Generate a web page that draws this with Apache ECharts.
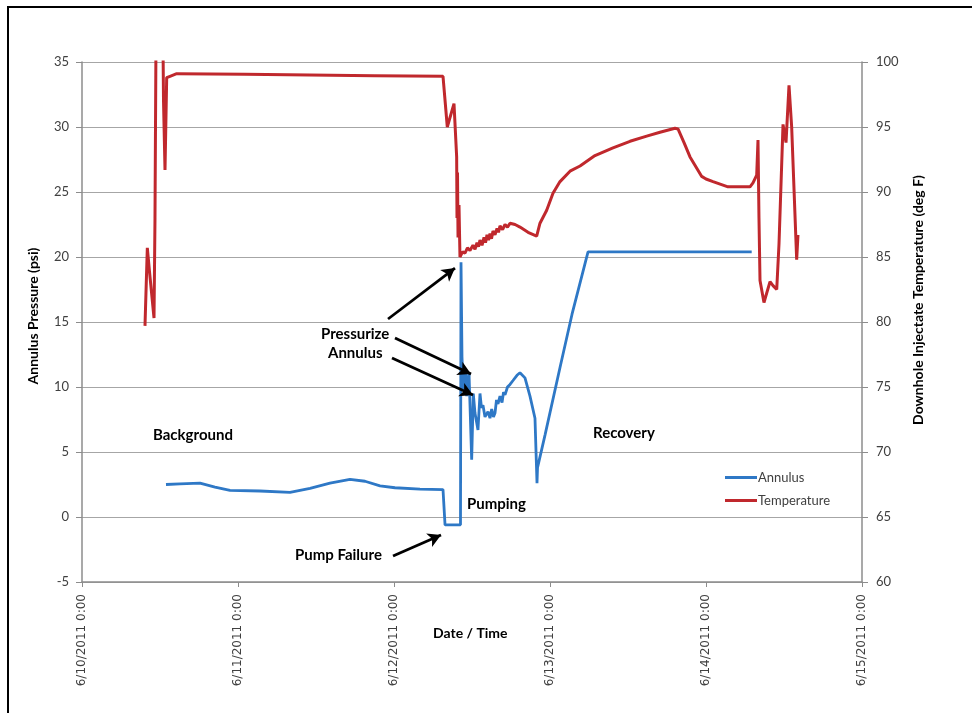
<!DOCTYPE html>
<html>
<head>
<meta charset="utf-8">
<script src="https://cdn.jsdelivr.net/npm/echarts@6/dist/echarts.min.js"></script>
<style>
  html, body { margin: 0; padding: 0; background: #fff; }
  #chart { width: 972px; height: 713px; }
</style>
</head>
<body>
<div id="chart"></div>
<script>
// Hours elapsed since 6/10/2011 0:00
const annulusHours = [12.92, 15.08, 18.15, 20.46, 22.77, 27.38, 32.0, 35.08, 38.15, 41.23, 43.54, 45.85, 48.15, 52.0, 55.54,
  55.85, 58.23, 58.31, 58.46, 58.66, 59.03, 59.18, 59.54, 59.95, 60.2, 60.46, 60.92, 61.23, 61.46, 61.69, 62.0, 62.46,
  62.77, 63.03, 63.3, 63.54, 63.77, 64.0, 64.31, 64.62, 64.85, 65.08, 65.46, 65.85, 66.31, 66.92, 67.38, 68.15, 68.92,
  69.69, 70.0, 70.08, 71.23, 73.54, 75.39, 77.85, 103.03];
const annulusPsi = [2.5, 2.55, 2.6, 2.3, 2.05, 2.0, 1.9, 2.2, 2.6, 2.9, 2.75, 2.4, 2.25, 2.15, 2.1,
  -0.6, -0.6, 19.6, 12.3, 9.8, 11.1, 9.3, 11.1, 4.4, 9.5, 8.0, 6.7, 9.5, 8.4, 8.6, 7.7, 8.1,
  7.6, 8.3, 7.7, 8.0, 9.0, 8.7, 9.3, 8.8, 9.6, 9.4, 10.0, 10.2, 10.5, 10.9, 11.1, 10.7, 9.3,
  7.6, 2.6, 3.8, 6.3, 11.5, 15.6, 20.4, 20.4];

const tempHours = [9.69, 10.05, 10.4, 11.08, 11.23, 11.38, 12.46, 12.54, 12.77, 13.03, 13.54, 14.57, 25.0, 35.0, 45.0, 55.54,
  55.69, 56.2, 57.23, 57.64, 57.69, 57.77, 57.85, 58.0, 58.15,
  58.54, 58.92, 59.3, 59.69, 60.15, 60.46, 60.77, 61.0, 61.23, 61.54, 61.85, 62.08, 62.31, 62.54, 62.77, 63.0, 63.23,
  63.54, 63.85, 64.08, 64.31, 64.7, 65.08, 65.46, 65.85, 66.62, 67.38, 68.62, 69.95,
  70.46, 71.49, 72.46, 73.54, 75.08, 76.62, 78.92, 81.69, 84.31, 86.88, 88.92, 91.23, 91.69, 92.62, 93.54, 95.34, 96.0,
  97.08, 99.38, 102.77, 103.23, 103.8, 104.0, 104.15, 104.31, 104.92, 105.85, 106.31, 106.88, 107.23, 107.85, 108.31,
  108.77, 109.18, 109.95, 110.15];
const tempDegF = [79.7, 85.7, 83.8, 80.3, 88.0, 101.5, 101.5, 97.0, 91.7, 98.8, 98.9, 99.1, 99.05, 99.0, 98.95, 98.9,
  99.0, 95.0, 96.8, 92.7, 88.0, 91.5, 86.5, 89.0, 85.0,
  85.4, 85.3, 85.7, 85.5, 85.9, 85.6, 86.1, 85.8, 86.3, 85.9, 86.5, 86.1, 86.7, 86.3, 86.8, 86.4, 87.0,
  86.7, 87.2, 86.9, 87.4, 87.1, 87.5, 87.3, 87.6, 87.5, 87.3, 86.9, 86.6,
  87.6, 88.6, 89.9, 90.8, 91.6, 92.0, 92.8, 93.4, 93.9, 94.3, 94.6, 94.9, 94.85, 93.8, 92.7, 91.2, 91.0,
  90.8, 90.4, 90.4, 90.7, 91.3, 94.0, 88.0, 83.2, 81.5, 83.1, 82.8, 82.5, 86.0, 95.2, 93.8,
  98.2, 95.0, 84.8, 86.7];

const xTickLabels = ['6/10/2011 0:00', '6/11/2011 0:00', '6/12/2011 0:00', '6/13/2011 0:00', '6/14/2011 0:00', '6/15/2011 0:00'];

// Annotation arrows: [startHours, startPsi, endHours, endPsi]
const arrows = [
  [47.08, 15.23, 57.38, 19.15],
  [48.15, 13.77, 59.85, 11.0],
  [47.69, 12.23, 60.15, 9.38],
  [47.85, -3.0, 55.23, -1.38]
];

const BLUE = '#2E78C6';
const RED = '#C0282D';
const GRID = '#A6A6A6';
const AXIS = '#8C8C8C';
const TXT = '#404040';
const FONT = 'Lato, "Open Sans", sans-serif';

const zip = (xs, ys) => xs.map((x, i) => [x, ys[i]]);

const chart = echarts.init(document.getElementById('chart'), null, { renderer: 'canvas' });

const boldText = (txt, left, top) => ({
  type: 'text', left: left, top: top,
  style: { text: txt, fill: '#000', font: 'bold 15px ' + FONT }
});

chart.setOption({
  animation: false,
  backgroundColor: '#fff',
  grid: { left: 82, right: 110, top: 62, bottom: 131, containLabel: false },
  xAxis: {
    type: 'value', min: 0, max: 120, interval: 24,
    axisLine: { show: true, onZero: false, lineStyle: { color: AXIS, width: 1.5 } },
    axisTick: { show: true, inside: false, length: 5, lineStyle: { color: AXIS } },
    splitLine: { show: false },
    axisLabel: {
      rotate: 90, margin: 12, color: TXT, fontFamily: '"DejaVu Sans", sans-serif', fontSize: 12,
      formatter: v => xTickLabels[Math.round(v / 24)]
    }
  },
  yAxis: [
    {
      type: 'value', min: -5, max: 35, interval: 5,
      axisLine: { show: true, onZero: false, lineStyle: { color: AXIS, width: 1.5 } },
      axisTick: { show: true, inside: false, length: 6, lineStyle: { color: AXIS } },
      splitLine: { show: true, lineStyle: { color: GRID, width: 1.2 } },
      axisLabel: { margin: 13, color: TXT, fontFamily: FONT, fontSize: 13 }
    },
    {
      type: 'value', min: 60, max: 100, interval: 5, position: 'right',
      axisLine: { show: true, onZero: false, lineStyle: { color: AXIS, width: 1.5 } },
      axisTick: { show: true, inside: false, length: 6, lineStyle: { color: AXIS } },
      splitLine: { show: false },
      axisLabel: { margin: 14, color: TXT, fontFamily: FONT, fontSize: 13 }
    }
  ],
  legend: {
    orient: 'vertical', left: 720, top: 466, itemGap: 10,
    itemWidth: 32, itemHeight: 3, icon: 'rect',
    textStyle: { color: TXT, fontFamily: FONT, fontSize: 13, padding: [0, 0, 0, -4] },
    data: ['Annulus', 'Temperature']
  },
  series: [
    {
      name: 'Annulus', type: 'line', yAxisIndex: 0, showSymbol: false, clip: true,
      data: zip(annulusHours, annulusPsi),
      lineStyle: { color: BLUE, width: 2.8 }, itemStyle: { color: BLUE },
      markLine: {
        silent: true, symbol: ['none', 'arrow'], symbolSize: [11, 13], animation: false,
        label: { show: false },
        lineStyle: { color: '#000', width: 2.8, type: 'solid' },
        data: arrows.map(a => [{ coord: [a[0], a[1]] }, { coord: [a[2], a[3]] }])
      },
      z: 3
    },
    {
      name: 'Temperature', type: 'line', yAxisIndex: 1, showSymbol: false, clip: true,
      data: zip(tempHours, tempDegF),
      lineStyle: { color: RED, width: 3 }, itemStyle: { color: RED },
      z: 2
    }
  ],
  graphic: [
    { type: 'polyline', shape: { points: [[8, 713], [8, 7], [972, 7]] }, style: { stroke: '#000', lineWidth: 2, fill: null } },
    boldText('Background', 153, 428),
    boldText('Recovery', 593, 426),
    boldText('Pumping', 467, 497),
    boldText('Pump Failure', 295, 548),
    boldText('Pressurize', 321, 327),
    boldText('Annulus', 328, 346),
    {
      type: 'text', left: 433, top: 626,
      style: { text: 'Date / Time', fill: '#000', font: 'bold 14px ' + FONT }
    },
    {
      type: 'text', x: 33, y: 316, rotation: Math.PI / 2,
      style: { text: 'Annulus Pressure (psi)', fill: '#000', font: 'bold 14px ' + FONT, align: 'center', verticalAlign: 'middle' }
    },
    {
      type: 'text', x: 918, y: 300, rotation: Math.PI / 2,
      style: { text: 'Downhole Injectate Temperature (deg F)', fill: '#000', font: 'bold 14px ' + FONT, align: 'center', verticalAlign: 'middle' }
    }
  ]
});
</script>
</body>
</html>
